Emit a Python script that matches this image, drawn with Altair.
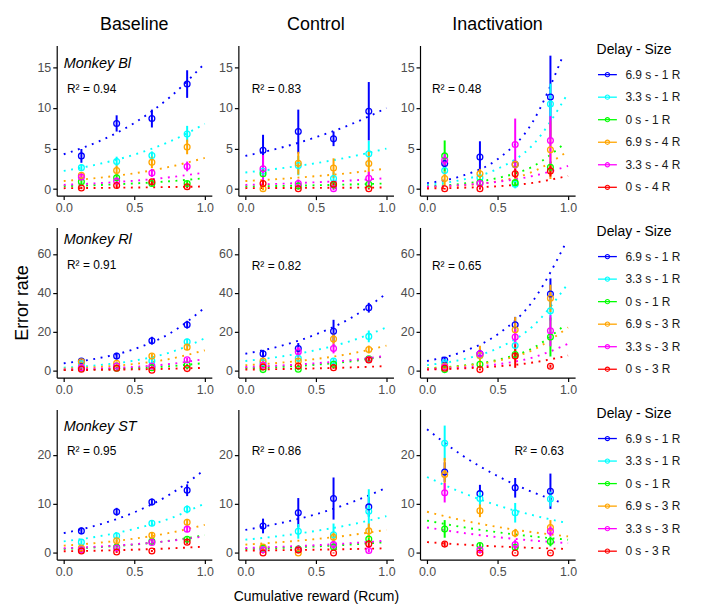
import altair as alt
import pandas as pd

FONT = "Liberation Sans"
COLUMNS = ["Baseline", "Control", "Inactivation"]
MONKEYS = ["Monkey Bl", "Monkey Rl", "Monkey ST"]
PANEL_KEYS = [["Bl_Baseline", "Bl_Control", "Bl_Inactivation"],
              ["Rl_Baseline", "Rl_Control", "Rl_Inactivation"],
              ["ST_Baseline", "ST_Control", "ST_Inactivation"]]
SERIES = [["6.9 s - 1 R", "3.3 s - 1 R", "0 s - 1 R", "6.9 s - 4 R", "3.3 s - 4 R", "0 s - 4 R"],
          ["6.9 s - 1 R", "3.3 s - 1 R", "0 s - 1 R", "6.9 s - 3 R", "3.3 s - 3 R", "0 s - 3 R"],
          ["6.9 s - 1 R", "3.3 s - 1 R", "0 s - 1 R", "6.9 s - 3 R", "3.3 s - 3 R", "0 s - 3 R"]]
COLORS = ["#0000FF", "#00FFFF", "#00FF00", "#FFA500", "#FF00FF", "#FF0000"]
LEGEND_TITLE = "Delay - Size"
X_TITLE = "Cumulative reward (Rcum)"
Y_TITLE = "Error rate"
X_TICKS = [0, 0.5, 1]
Y_TICKS = [[0, 5, 10, 15], [0, 20, 40, 60], [0, 10, 20]]
Y_DOMAINS = [[-0.8, 17.7], [-3.4, 73.5], [-1.35, 29.3]]

R2 = {"Bl_Baseline": "0.94", "Bl_Control": "0.83", "Bl_Inactivation": "0.48",
      "Rl_Baseline": "0.91", "Rl_Control": "0.82", "Rl_Inactivation": "0.65",
      "ST_Baseline": "0.95", "ST_Control": "0.86", "ST_Inactivation": "0.63"}

# x positions of binned cumulative reward
X_POS = [0.125, 0.375, 0.625, 0.875]
# x positions at which fit curves were read (last point per series in FIT_END)
FIT_X = [0.0, 0.25, 0.5, 0.75]

# series order: blue, cyan, green, orange, magenta, red
MEANS = {
    "Bl_Baseline": [[4.1, 8.1, 8.7, 12.95], [2.65, 3.4, 4.15, 6.8], [0.9, 1.4, 0.7, 0.7],
                    [1.7, 2.3, 3.3, 5.2], [1.5, 1.0, 2.0, 2.8], [0.15, 0.45, 0.9, 0.3]],
    "Bl_Control": [[4.8, 7.1, 6.2, 9.6], [2.2, 2.9, 1.3, 4.35], [1.9, 0.4, 0.5, 0.6],
                   [0.05, 3.2, 2.6, 3.15], [2.5, 0.7, 0.05, 1.35], [0.7, 0.05, 0.6, 0.05]],
    "Bl_Inactivation": [[3.15, 3.95, 3.05, 11.35], [2.3, 1.4, 0.6, 10.5], [4.1, 0.8, 0.8, 2.7],
                        [1.3, 1.9, 3.05, 4.85], [3.55, 0.7, 5.5, 6.0], [0.05, 0.05, 1.9, 2.25]],
    "Rl_Baseline": [[5.1, 7.6, 15.5, 23.7], [3.7, 2.5, 5.1, 14.9], [1.35, 1.35, 1.7, 3.0],
                    [4.7, 3.9, 7.6, 12.2], [1.7, 2.5, 2.5, 5.7], [0.85, 1.35, 0.35, 1.2]],
    "Rl_Control": [[8.8, 11.5, 20.3, 32.4], [4.2, 6.5, 5.1, 17.7], [0.7, 0.85, 3.4, 6.25],
                   [5.1, 5.1, 16.4, 11.0], [3.0, 9.8, 11.5, 5.9], [2.0, 2.5, 1.7, 5.6]],
    "Rl_Inactivation": [[5.6, 8.8, 23.7, 39.4], [4.2, 7.9, 13.0, 30.8], [0.7, 3.4, 8.45, 17.4],
                        [2.5, 7.9, 21.1, 37.2], [2.0, 8.8, 17.4, 20.6], [1.35, 0.7, 7.6, 2.4]],
    "ST_Baseline": [[4.5, 8.4, 10.4, 12.8], [2.2, 3.5, 6.05, 8.9], [0.65, 1.2, 2.35, 2.8],
                    [1.0, 2.5, 3.6, 6.25], [0.65, 1.0, 2.15, 4.85], [0.4, 0.2, 0.4, 2.2]],
    "ST_Control": [[5.5, 8.2, 11.1, 9.4], [0.7, 4.4, 3.7, 8.5], [1.0, 0.8, 1.2, 2.85],
                   [1.2, 0.0, 3.2, 4.5], [0.65, 0.65, 1.7, 0.5], [0.0, 0.6, 0.0, 1.8]],
    "ST_Inactivation": [[16.5, 12.1, 13.3, 12.6], [22.4, 11.1, 8.2, 11.0], [4.9, 1.5, 1.15, 2.35],
                        [16.0, 8.6, 4.0, 5.2], [12.3, 0.65, 1.7, 4.4], [1.8, 0.0, 0.0, 0.0]],
}

ERRS = {
    "Bl_Baseline": [[0.85, 1.0, 1.1, 1.7], [0.35, 0.6, 0.5, 1.0], [0.3, 0.4, 0.3, 0.3],
                    [0.4, 0.6, 0.7, 0.9], [0.4, 0.4, 0.5, 0.6], [0.15, 0.2, 0.3, 0.2]],
    "Bl_Control": [[1.9, 2.7, 0.9, 3.6], [0.8, 1.2, 0.8, 1.6], [0.4, 0.3, 0.3, 0.3],
                   [0.2, 1.4, 1.2, 1.5], [1.7, 0.5, 0.2, 0.8], [0.4, 0.1, 0.4, 0.1]],
    "Bl_Inactivation": [[0.6, 1.95, 0.5, 5.1], [0.5, 0.6, 0.5, 2.5], [1.9, 0.4, 0.4, 0.7],
                        [0.9, 0.6, 0.6, 3.6], [0.9, 0.5, 3.2, 3.0], [0.1, 0.1, 0.6, 0.7]],
    "Rl_Baseline": [[1.5, 1.7, 2.0, 2.0], [0.8, 0.8, 1.2, 1.6], [0.4, 0.4, 0.5, 0.7],
                    [1.0, 1.0, 1.3, 1.6], [0.5, 0.6, 0.7, 1.0], [0.3, 0.4, 0.3, 0.4]],
    "Rl_Control": [[2.0, 2.8, 5.9, 2.5], [1.0, 1.5, 1.5, 3.0], [0.4, 0.5, 0.8, 1.2],
                   [1.2, 1.5, 3.0, 2.0], [1.0, 2.5, 2.5, 1.5], [0.6, 0.7, 0.6, 1.2]],
    "Rl_Inactivation": [[1.5, 2.5, 4.0, 8.0], [1.0, 2.0, 3.0, 5.0], [0.4, 1.0, 2.5, 10.0],
                        [0.8, 5.0, 6.5, 7.0], [0.6, 2.0, 4.0, 8.0], [0.5, 0.4, 6.0, 0.8]],
    "ST_Baseline": [[0.7, 0.8, 0.7, 1.2], [0.4, 0.5, 0.6, 0.8], [0.3, 0.3, 0.4, 0.4],
                    [0.3, 0.5, 0.5, 0.7], [0.3, 0.3, 0.4, 0.6], [0.2, 0.2, 0.2, 0.4]],
    "ST_Control": [[1.5, 3.0, 4.3, 2.0], [0.4, 1.5, 2.3, 4.5], [0.4, 0.3, 0.5, 0.8],
                   [0.6, 0.1, 1.0, 1.5], [0.4, 0.4, 0.8, 0.4], [0.1, 0.3, 0.1, 0.8]],
    "ST_Inactivation": [[2.0, 1.8, 2.0, 3.6], [3.6, 1.5, 2.0, 1.5], [1.8, 0.5, 0.6, 1.0],
                        [3.4, 1.3, 0.8, 1.5], [2.0, 0.5, 1.0, 1.0], [0.5, 0.1, 0.1, 0.1]],
}

# fitted curves read at FIT_X + [FIT_END]
FITS = {
    "Bl_Baseline": [[4.3, 5.9, 8.15, 11.3, 15.5], [2.25, 3.1, 4.25, 5.85, 8.05], [0.37, 0.51, 0.70, 0.97, 1.35],
                    [1.0, 1.4, 1.95, 2.75, 3.85], [0.53, 0.74, 1.04, 1.46, 2.05], [0.12, 0.15, 0.2, 0.26, 0.33]],
    "Bl_Control": [[4.1, 5.1, 6.4, 8.0, 10.0], [2.05, 2.57, 3.2, 4.0, 5.0], [0.33, 0.40, 0.48, 0.58, 0.70],
                   [1.0, 1.26, 1.6, 2.0, 2.55], [0.53, 0.67, 0.85, 1.07, 1.35], [0.12, 0.14, 0.16, 0.18, 0.2]],
    "Bl_Inactivation": [[0.74, 1.65, 3.69, 8.3, 16.5], [0.53, 1.16, 2.5, 5.45, 11.85], [0.33, 0.67, 1.37, 2.79, 5.7],
                        [0.2, 0.44, 0.97, 2.14, 4.7], [0.29, 0.51, 0.91, 1.62, 2.86], [0.08, 0.17, 0.36, 0.77, 1.63]],
    "Rl_Baseline": [[3.9, 6.6, 11.2, 19.1, 32.4], [1.7, 3.0, 5.3, 9.4, 16.7], [0.5, 0.85, 1.42, 2.4, 4.05],
                    [1.2, 2.07, 3.56, 6.14, 10.6], [0.7, 1.2, 2.06, 3.55, 6.1], [0.4, 0.57, 0.8, 1.13, 1.6]],
    "Rl_Control": [[8.8, 12.8, 18.7, 27.2, 39.7], [5.1, 7.36, 10.66, 15.4, 22.3], [1.35, 2.08, 3.2, 4.93, 7.6],
                   [2.9, 4.23, 6.14, 8.9, 13.0], [2.0, 2.81, 3.95, 5.55, 7.8], [0.7, 0.96, 1.32, 1.81, 2.5]],
    "Rl_Inactivation": [[5.1, 9.76, 18.7, 35.8, 65.0], [3.0, 5.9, 11.6, 22.9, 44.8], [1.35, 2.77, 5.68, 11.7, 23.7],
                        [1.2, 2.49, 5.2, 10.7, 22.3], [0.85, 1.71, 3.4, 6.9, 13.9], [0.7, 1.28, 2.35, 4.3, 7.9]],
    "ST_Baseline": [[4.04, 5.77, 8.28, 11.9, 17.0], [2.36, 3.39, 4.9, 7.0, 10.1], [0.81, 1.18, 1.71, 2.49, 3.64],
                    [1.48, 2.08, 2.91, 4.09, 5.72], [0.94, 1.29, 1.78, 2.45, 3.37], [0.34, 0.47, 0.66, 0.92, 1.28]],
    "ST_Control": [[4.7, 6.1, 7.9, 10.3, 13.3], [2.7, 3.48, 4.5, 5.8, 7.5], [0.8, 1.03, 1.33, 1.71, 2.2],
                   [1.7, 2.2, 2.83, 3.65, 4.7], [1.0, 1.26, 1.58, 1.99, 2.5], [0.47, 0.56, 0.66, 0.79, 0.94]],
    "ST_Inactivation": [[25.25, 19.9, 15.7, 12.4, 10.2], [15.5, 12.3, 9.7, 7.7, 6.06], [6.6, 5.28, 4.22, 3.37, 2.7],
                        [8.4, 6.68, 5.3, 4.23, 3.37], [5.2, 4.1, 3.22, 2.53, 2.0], [2.2, 1.71, 1.33, 1.03, 0.8]],
}
FIT_END = {
    "Bl_Baseline": [1.0] * 6, "Bl_Control": [1.0] * 6,
    "Bl_Inactivation": [0.965, 1.0, 0.98, 1.0, 1.0, 1.0],
    "Rl_Baseline": [1.0] * 6, "Rl_Control": [1.0] * 6,
    "Rl_Inactivation": [0.98, 1.0, 0.98, 1.0, 1.0, 1.0],
    "ST_Baseline": [1.0] * 6, "ST_Control": [1.0] * 6,
    "ST_Inactivation": [0.96, 1.0, 1.0, 1.0, 1.0, 1.0],
}

# annotation anchors (data coords)
R2_POS = {
    "Bl_Baseline": (0.023, 12.3), "Bl_Control": (0.045, 12.3), "Bl_Inactivation": (0.035, 12.3),
    "Rl_Baseline": (0.023, 54.1), "Rl_Control": (0.045, 53.7), "Rl_Inactivation": (0.035, 53.7),
    "ST_Baseline": (0.023, 20.9), "ST_Control": (0.045, 20.9), "ST_Inactivation": (0.62, 20.9),
}
MONKEY_POS = [(0.0, 15.4), (0.0, 67.3), (0.0, 25.8)]

PW, PH = 156, 151
COL_GAP = 26.7


def panel(r, c):
    key = PANEL_KEYS[r][c]
    series = SERIES[r]
    pts = []
    for s, name in enumerate(series):
        for i, x in enumerate(X_POS):
            m = MEANS[key][s][i]
            e = ERRS[key][s][i]
            pts.append({"series": name, "k": s, "x": x, "y": m, "lo": m - e, "hi": m + e})
    fit = []
    for s, name in enumerate(series):
        xs = FIT_X + [FIT_END[key][s]]
        for x, v in zip(xs, FITS[key][s]):
            fit.append({"series": name, "k": s, "x": x, "y": v})
    pts_df = pd.DataFrame(pts)
    fit_df = pd.DataFrame(fit)

    xscale = alt.Scale(domain=[-0.05, 1.05], nice=False, zero=False)
    yscale = alt.Scale(domain=Y_DOMAINS[r], nice=False, zero=False)
    xaxis = alt.Axis(values=X_TICKS, format=".1f")
    yaxis = alt.Axis(values=Y_TICKS[r], format="d")
    xt = X_TITLE if (r == 2 and c == 1) else None
    yt = Y_TITLE if (r == 1 and c == 0) else None
    X = lambda f: alt.X(f, scale=xscale, axis=xaxis, title=xt)
    Y = lambda f: alt.Y(f, scale=yscale, axis=yaxis, title=yt)
    color = alt.Color("series:N", scale=alt.Scale(domain=series, range=COLORS), legend=None)

    lines = alt.Chart(fit_df).mark_line(
        strokeWidth=1.9, strokeDash=[1.9, 5.6], strokeCap="butt", interpolate="monotone"
    ).encode(x=X("x:Q"), y=Y("y:Q"), color=color, order="x:Q")
    rules = alt.Chart(pts_df).mark_rule(strokeWidth=2).encode(
        x=X("x:Q"), y=Y("lo:Q"), y2="hi:Q", color=color)
    points = alt.Chart(pts_df).mark_point(filled=False, size=34, strokeWidth=1.3, opacity=1).encode(
        x=X("x:Q"), y=Y("y:Q"), color=color)

    rx, ry = R2_POS[key]
    r2_df = pd.DataFrame([{"x": rx, "y": ry, "label": "R\u00b2 = " + R2[key]}])
    r2 = alt.Chart(r2_df).mark_text(align="left", baseline="middle", fontSize=12, font=FONT,
                                    color="black").encode(x=X("x:Q"), y=Y("y:Q"), text="label:N")
    layers = [lines, rules, points, r2]
    if c == 0:
        mx, my = MONKEY_POS[r]
        m_df = pd.DataFrame([{"x": mx, "y": my, "label": MONKEYS[r]}])
        layers.append(alt.Chart(m_df).mark_text(align="left", baseline="middle", fontSize=14.5, font=FONT,
                                                fontStyle="italic", color="black").encode(
            x=X("x:Q"), y=Y("y:Q"), text="label:N"))
    ch = alt.layer(*layers).properties(width=PW, height=PH)
    if r == 0:
        ch = ch.properties(title=alt.TitleParams(COLUMNS[c], fontSize=18, font=FONT, fontWeight="normal",
                                                 color="black", offset=12))
    return ch


def legend_chart(r):
    series = SERIES[r]
    df = pd.DataFrame({"series": series, "k": list(range(len(series)))})
    yenc = alt.Y("k:Q", scale=alt.Scale(domain=[0, len(series) - 1], range=[29.3, 142.6], nice=False, zero=False),
                 axis=None)
    color = alt.Color("series:N", scale=alt.Scale(domain=series, range=COLORS), legend=None)
    off = 20 - COL_GAP  # legend sits 20px right of the last panel
    seg = alt.Chart(df).mark_rule(strokeWidth=1.3).encode(
        x=alt.value(3 + off), x2=alt.value(22 + off), y=yenc, color=color)
    dot = alt.Chart(df).mark_point(filled=False, size=18, strokeWidth=1.1, opacity=1).encode(
        x=alt.value(12.5 + off), y=yenc, color=color)
    lab = alt.Chart(df).mark_text(align="left", baseline="middle", fontSize=12, font=FONT, color="#1a1a1a").encode(
        x=alt.value(30.6 + off), y=yenc, text="series:N")
    tdf = pd.DataFrame([{"t": LEGEND_TITLE}])
    ttl = alt.Chart(tdf).mark_text(align="left", baseline="middle", fontSize=14, font=FONT, color="black").encode(
        x=alt.value(1.6 + off), y=alt.value(5), text="t:N")
    return alt.layer(seg, dot, lab, ttl).properties(width=90, height=PH)


cells = []
for r in range(3):
    for c in range(3):
        cells.append(panel(r, c))
    cells.append(legend_chart(r))

chart = alt.concat(*cells, columns=4, spacing={"row": 32, "column": COL_GAP}, bounds="flush").resolve_scale(
    color="independent").properties(
    padding={"left": 6, "top": 6, "right": 5, "bottom": 0}
).configure_view(stroke=None).configure_axis(
    grid=False, domainColor="black", domainWidth=1.2, tickColor="black", tickWidth=1.2, tickSize=4,
    labelColor="#4D4D4D", labelFontSize=12.5, labelFont=FONT, labelPadding=2,
    titleFont=FONT, titleFontWeight="normal", titleColor="black"
).configure_axisY(titleFontSize=18, titlePadding=5).configure_axisX(titleFontSize=14, titlePadding=12)

chart.save("out.html", embed_options={"renderer": "svg", "actions": False})
